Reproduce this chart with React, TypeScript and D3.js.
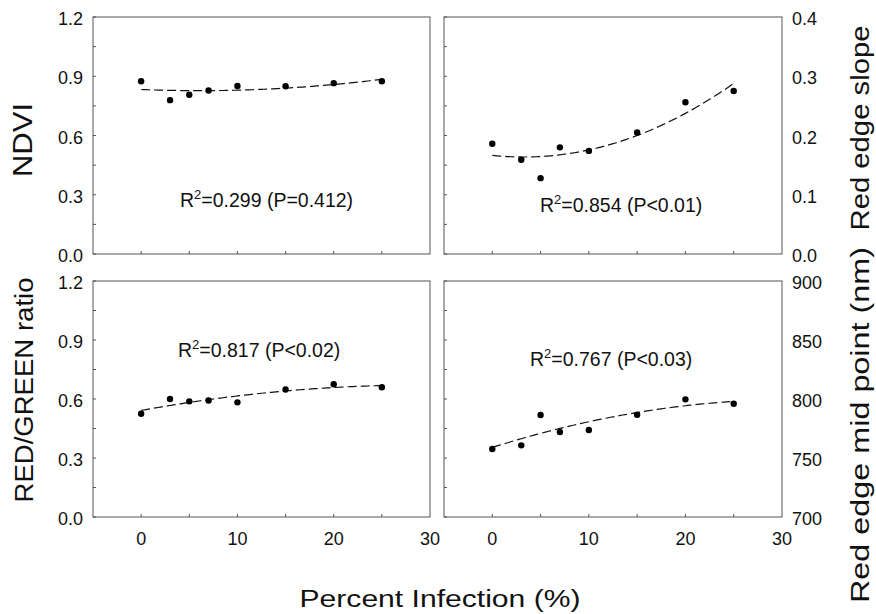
import React from "react";
import * as d3 from "d3";

// percent infection levels sampled
const infection = [0, 3, 5, 7, 10, 15, 20, 25];

// values
const ndvi = [0.875, 0.779, 0.806, 0.828, 0.851, 0.849, 0.865, 0.875];
const redEdgeSlope = [0.186, 0.159, 0.128, 0.18, 0.174, 0.205, 0.256, 0.275];
const redGreenRatio = [0.525, 0.6, 0.588, 0.592, 0.583, 0.648, 0.675, 0.66];
const redEdgeMid = [757.6, 760.7, 786.4, 772.0, 773.7, 786.7, 799.7, 796.0];

const xTickLabels = [0, 10, 20, 30];
const xMinorTicks = [0, 5, 10, 15, 20, 25];
const ndviTicks = [0, 0.3, 0.6, 0.9, 1.2];
const slopeTicks = [0, 0.1, 0.2, 0.3, 0.4];
const ratioTicks = [0, 0.3, 0.6, 0.9, 1.2];
const midTicks = [700, 750, 800, 850, 900];

const stats = ["0.299 (P=0.412)", "0.854 (P<0.01)", "0.817 (P<0.02)", "0.767 (P<0.03)"];

const FONT = "'Liberation Sans', Arial, Helvetica, sans-serif";

// least squares quadratic y = a + b x + c x^2
function quadFit(xs: number[], ys: number[]) {
  const s = (p: number) => d3.sum(xs, (x) => Math.pow(x, p));
  const t = (p: number) => d3.sum(xs, (x, i) => Math.pow(x, p) * ys[i]);
  const m = [
    [s(0), s(1), s(2), t(0)],
    [s(1), s(2), s(3), t(1)],
    [s(2), s(3), s(4), t(2)],
  ];
  for (let i = 0; i < 3; i++) {
    for (let k = i + 1; k < 3; k++) {
      const f = m[k][i] / m[i][i];
      for (let j = i; j < 4; j++) m[k][j] -= f * m[i][j];
    }
  }
  const r = [0, 0, 0];
  for (let i = 2; i >= 0; i--) {
    let v = m[i][3];
    for (let j = i + 1; j < 3; j++) v -= m[i][j] * r[j];
    r[i] = v / m[i][i];
  }
  return (x: number) => r[0] + r[1] * x + r[2] * x * x;
}

type PanelProps = {
  x0: number; x1: number; y0: number; y1: number;
  values: number[];
  ticks: number[];
  minorStep: number;
  labelSide: "left" | "right";
  fmt: (v: number) => string;
  stat: string;
  statX: number; statY: number;
};

const Panel = (p: PanelProps) => {
  const x = d3.scaleLinear().domain([-5, 30]).range([p.x0, p.x1]);
  const y = d3.scaleLinear().domain([p.ticks[0], p.ticks[p.ticks.length - 1]]).range([p.y1, p.y0]);
  const minor = d3.range(p.ticks[0], p.ticks[p.ticks.length - 1] + 1e-9, p.minorStep);
  const fit = quadFit(infection, p.values);
  const curve = d3.range(0, 25.001, 0.25).map((v) => [v, fit(v)] as [number, number]);
  const line = d3.line<[number, number]>().x((d) => x(d[0])).y((d) => y(d[1]));

  return (
    <g>
      <rect x={p.x0} y={p.y0} width={p.x1 - p.x0} height={p.y1 - p.y0}
        fill="none" stroke="#555" strokeWidth={1} />
      {minor.map((v, i) => (
        <line key={"ym" + i} x1={p.x0} x2={p.x0 + 3} y1={y(v)} y2={y(v)} stroke="#555" />
      ))}
      {xMinorTicks.map((v) => (
        <line key={"xm" + v} x1={x(v)} x2={x(v)} y1={p.y1} y2={p.y1 - 3} stroke="#555" />
      ))}
      {p.ticks.map((v) => (
        <text key={"yl" + v}
          x={p.labelSide === "left" ? p.x0 - 10 : p.x1 + 10}
          y={y(v) + 2}
          textAnchor={p.labelSide === "left" ? "end" : "start"}
          dominantBaseline="central"
          fontSize={18} fontFamily={FONT} fill="#111">
          {p.fmt(v)}
        </text>
      ))}
      <path d={line(curve) || ""} fill="none" stroke="#111" strokeWidth={1.2} strokeDasharray="9,4" />
      {infection.map((v, i) => (
        <circle key={"pt" + i} cx={x(v)} cy={y(p.values[i])} r={3.2} fill="#000" />
      ))}
      <text x={p.statX} y={p.statY} fontSize={19.5} fontFamily={FONT} fill="#111">
        R<tspan fontSize={13} dy={-8}>2</tspan><tspan dy={8}>={p.stat}</tspan>
      </text>
    </g>
  );
};

export default function App() {
  const f1 = d3.format(".1f");
  const f0 = d3.format("d");
  const left = { x0: 93, x1: 430 };
  const right = { x0: 444, x1: 782 };
  const top = { y0: 17, y1: 254 };
  const bottom = { y0: 281, y1: 517 };
  const xl = d3.scaleLinear().domain([-5, 30]).range([left.x0, left.x1]);
  const xr = d3.scaleLinear().domain([-5, 30]).range([right.x0, right.x1]);

  return (
    <svg width={876} height={614}
      style={{ position: "absolute", left: 0, top: 0, background: "#fff", display: "block" }}>
      <rect width={876} height={614} fill="#fff" />
      <Panel {...left} {...top} values={ndvi} ticks={ndviTicks} minorStep={0.15}
        labelSide="left" fmt={f1} stat={stats[0]} statX={180} statY={207} />
      <Panel {...right} {...top} values={redEdgeSlope} ticks={slopeTicks} minorStep={0.05}
        labelSide="right" fmt={f1} stat={stats[1]} statX={540} statY={212} />
      <Panel {...left} {...bottom} values={redGreenRatio} ticks={ratioTicks} minorStep={0.15}
        labelSide="left" fmt={f1} stat={stats[2]} statX={178} statY={357} />
      <Panel {...right} {...bottom} values={redEdgeMid} ticks={midTicks} minorStep={25}
        labelSide="right" fmt={f0} stat={stats[3]} statX={530} statY={366} />

      {xTickLabels.map((v) => (
        <text key={"l" + v} x={xl(v)} y={545} textAnchor="middle" fontSize={18} fontFamily={FONT} fill="#111">{v}</text>
      ))}
      {xTickLabels.map((v) => (
        <text key={"r" + v} x={xr(v)} y={545} textAnchor="middle" fontSize={18} fontFamily={FONT} fill="#111">{v}</text>
      ))}

      <text transform="translate(32,140) rotate(-90)" textAnchor="middle" fontSize={27}
        fontFamily={FONT} fill="#111" textLength={74} lengthAdjust="spacingAndGlyphs">NDVI</text>
      <text transform="translate(33,390) rotate(-90)" textAnchor="middle" fontSize={25}
        fontFamily={FONT} fill="#111" textLength={225} lengthAdjust="spacingAndGlyphs">RED/GREEN ratio</text>
      <text transform="translate(869,128) rotate(-90)" textAnchor="middle" fontSize={25}
        fontFamily={FONT} fill="#111" textLength={205} lengthAdjust="spacingAndGlyphs">Red edge slope</text>
      <text transform="translate(869,425) rotate(-90)" textAnchor="middle" fontSize={25}
        fontFamily={FONT} fill="#111" textLength={356} lengthAdjust="spacingAndGlyphs">Red edge mid point (nm)</text>
      <text x={440} y={607} textAnchor="middle" fontSize={23} fontFamily={FONT} fill="#111"
        textLength={281} lengthAdjust="spacingAndGlyphs">Percent Infection (%)</text>
    </svg>
  );
}
